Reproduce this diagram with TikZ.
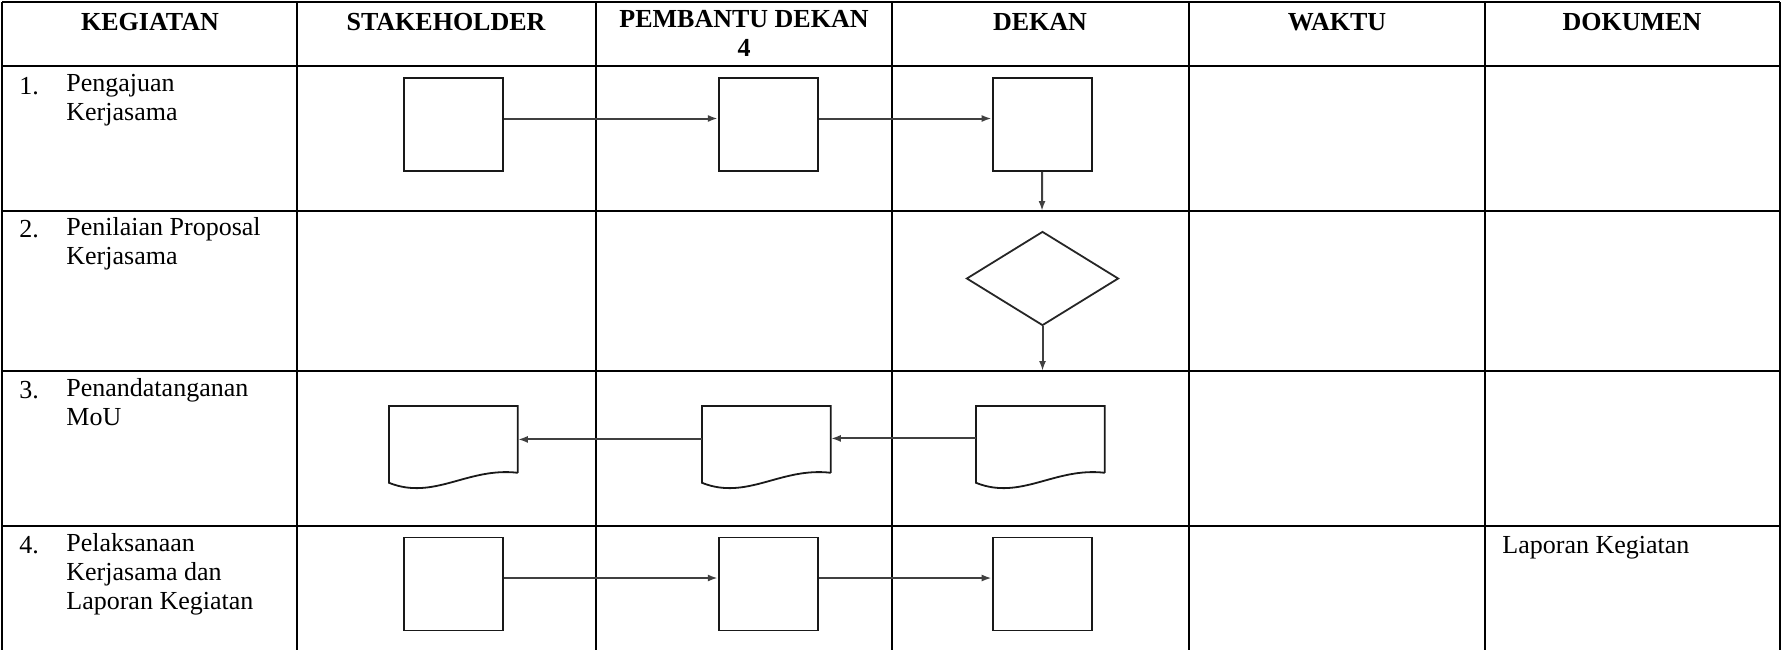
\documentclass[tikz,border=0pt]{standalone}
\usepackage{fontspec}
\setmainfont{Liberation Serif}
\usetikzlibrary{arrows.meta}
\usetikzlibrary{positioning}
\usetikzlibrary{calc, shapes.geometric}

\begin{document}
\begin{tikzpicture}[x=0.5pt,y=-0.5pt,>={Latex[length=5pt,width=3.5pt]},node distance=1cm]
 \tikzstyle{grid line}=[line width=1.1pt,draw=black]
 \tikzstyle{head node}=[inner sep=0,font=\fontsize{13pt}{14.5pt}\selectfont\bfseries,align=center,anchor=north,execute at begin node=\strut]
 \tikzstyle{cell node}=[inner sep=0,font=\fontsize{13pt}{14.5pt}\selectfont,align=left,anchor=north west,execute at begin node=\strut]
 \tikzset{
 	proc node/.style={rectangle,draw=black!90,line width=0.9pt,minimum width=49.5pt,minimum height=46.5pt,inner sep=0},
 	decision node/.style={diamond,draw=black!85,line width=0.9pt,minimum width=76pt,minimum height=47pt,inner sep=0},
 	doc node/.style={rectangle,minimum width=64pt,minimum height=33pt,inner sep=0,anchor=north west},
 	flow/.style={->,draw=black!75,line width=1pt}
 }

 \useasboundingbox (0,0) rectangle (1782,650);

 % table
 \foreach \x in {2,297,596,892,1189,1485,1780}
   \draw[grid line] (\x,2) -- (\x,650);
 \foreach \y in {2,66,211,371,526}
   \draw[grid line] (2,\y) -- (1780,\y);

 % header (strut top = baseline - 20)
       \node[head node] (hk) at (150,10) {KEGIATAN};
       \node[head node] (hs) at (446,10) {STAKEHOLDER};
       \node[head node] (hp) at (744,10) {PEMBANTU DEKAN\\4};
       \node[head node] (hd) at (1040,10) {DEKAN};
       \node[head node] (hw) at (1337,10) {WAKTU};
       \node[head node] (ho) at (1632,10) {DOKUMEN};

 % kegiatan
       \node[cell node] (n1) at (19,74) {1.};
       \node[cell node] (k1) at (66,74) {Pengajuan\\Kerjasama};
       \node[cell node] (n2) at (19,217) {2.};
       \node[cell node] (k2) at (66,217) {Penilaian Proposal\\Kerjasama};
       \node[cell node] (n3) at (19,378) {3.};
       \node[cell node] (k3) at (66,378) {Penandatanganan\\MoU};
       \node[cell node] (n4) at (19,533) {4.};
       \node[cell node] (k4) at (66,533) {Pelaksanaan\\Kerjasama dan\\Laporan Kegiatan};
       \node[cell node] (dok4) at (1502,533) {Laporan Kegiatan};

 % baris 1
       \node[proc node] (sa1) at (453.5,124.5) {};
       \node[proc node] (pa1) [right=107pt of sa1] {};
       \node[proc node] (da1) [right=86.5pt of pa1] {};

 % baris 2
       \node[decision node] (dd2) at (1042.5,278.5) {};
       \coordinate (e1) at (1042,211);
       \coordinate (e2) at (1042.5,371);

 % baris 3
       \node[doc node] (sd3) at (389,406) {};
       \node[doc node] (pd3) at (702,406) {};
       \node[doc node] (dd3) at (976,406) {};
 \foreach \d in {sd3,pd3,dd3}
   \draw[draw=black!90,line width=0.9pt] (\d.south east) -- (\d.north east) -- (\d.north west)
     -- ($(\d.south west)+(0,10)$) .. controls +(45,18) and +(-50,-6) .. (\d.south east);

 % baris 4
       \node[proc node] (sa4) at (453.5,584) {};
       \node[proc node] (pa4) [right=107pt of sa4] {};
       \node[proc node] (da4) [right=86.5pt of pa4] {};

     \draw[flow] ([yshift=3pt]sa1.east) -- ([yshift=3pt]pa1.west);
     \draw[flow] ([yshift=3pt]pa1.east) -- ([yshift=3pt]da1.west);
     \draw[flow] (da1.south) -- (e1);
     \draw[flow] (dd2.south) -- (e2);

     \draw[flow] ([yshift=0.5pt]dd3.west) -- ([yshift=0.5pt]pd3.east);
     \draw[flow] (pd3.west) -- (sd3.east);

     \draw[flow] ([yshift=3pt]sa4.east) -- ([yshift=3pt]pa4.west);
     \draw[flow] ([yshift=3pt]pa4.east) -- ([yshift=3pt]da4.west);
 \end{tikzpicture}
\end{document}
